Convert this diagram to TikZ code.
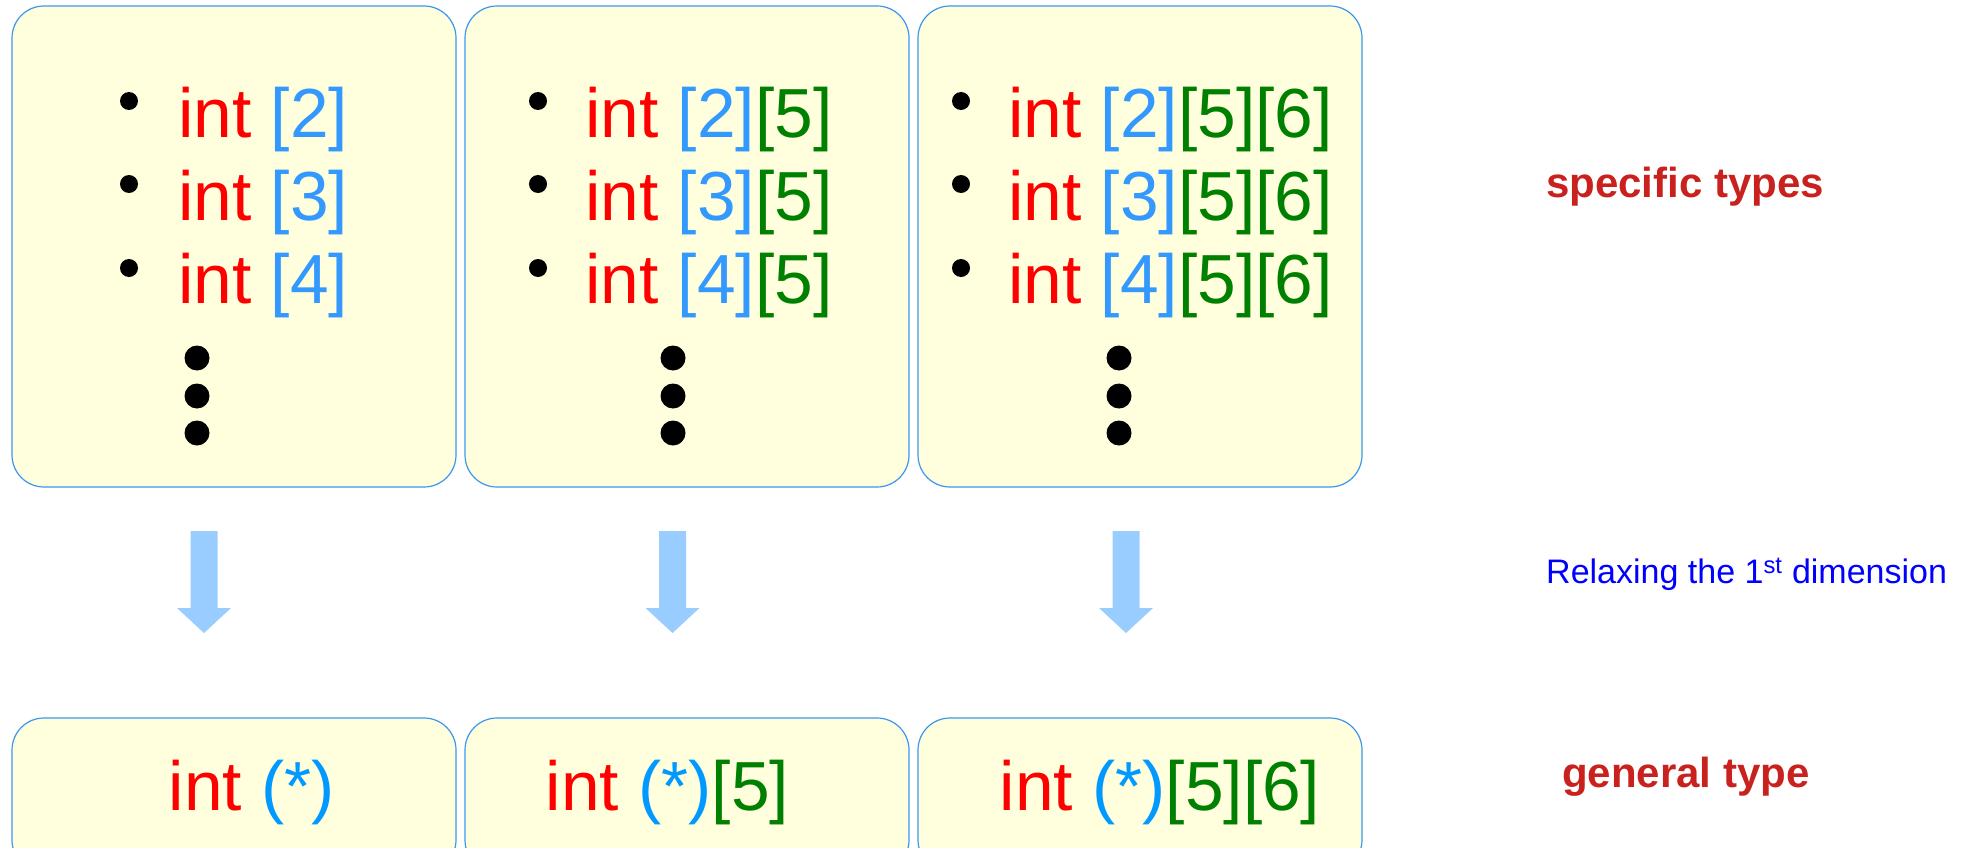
\documentclass[tikz,border=0pt]{standalone}
\usepackage{fontspec}
\setmainfont{Liberation Sans}
\definecolor{boxfill}{RGB}{255,255,221}
\definecolor{boxline}{RGB}{60,150,240}
\definecolor{intred}{RGB}{255,0,0}
\definecolor{dimblue}{RGB}{51,153,255}
\definecolor{starblue}{RGB}{0,153,255}
\definecolor{dimgreen}{RGB}{0,128,0}
\definecolor{arrowblue}{RGB}{153,204,255}
\definecolor{labelred}{RGB}{201,33,30}
\definecolor{labelblue}{RGB}{0,0,255}
\newcommand{\ci}{\textcolor{intred}{int}}
\newcommand{\cb}[1]{\textcolor{dimblue}{[#1]}}
\newcommand{\cg}[1]{\textcolor{dimgreen}{[#1]}}
\newcommand{\cs}{\textcolor{starblue}{(*)}}
\begin{document}
\begin{tikzpicture}[x=1pt,y=-1pt,
  panel/.style={draw=boxline, line width=1.2pt, fill=boxfill, rounded corners=32pt, inner sep=0pt, minimum width=444pt},
  toppanel/.style={panel, minimum height=481pt},
  botpanel/.style={panel, minimum height=154pt},
  code/.style={anchor=base west, inner sep=0pt, font=\fontsize{69.5}{80}\selectfont},
  bul/.style={circle, fill=black, inner sep=0pt, minimum size=18pt},
  vdot/.style={circle, fill=black, inner sep=0pt, minimum size=25pt},
  sidebold/.style={anchor=base west, inner sep=0pt, text=labelred, font=\fontsize{42}{50}\selectfont\bfseries},
  sidenote/.style={anchor=base west, inner sep=0pt, text=labelblue, font=\fontsize{34}{40}\selectfont},
  blockarrow/.style={fill=arrowblue}
]
\useasboundingbox (0,0) rectangle (1969,848);

% top panels
\node[toppanel] (t1) at (234,246.5) {};
\node[toppanel] (t2) at (687,246.5) {};
\node[toppanel] (t3) at (1140,246.5) {};

% bottom panels
\node[botpanel] (g1) at (234,795) {};
\node[botpanel] (g2) at (687,795) {};
\node[botpanel] (g3) at (1140,795) {};

% panel 1 content
\node[bul] (p1b1) at (129,101) {};
\node[bul] (p1b2) at (129,184) {};
\node[bul] (p1b3) at (129,268) {};
\node[code] (p1l1) at (178,137) {\ci{} \cb{2}};
\node[code] (p1l2) at (178,220) {\ci{} \cb{3}};
\node[code] (p1l3) at (178,303) {\ci{} \cb{4}};
\node[vdot] (p1d1) at (197,358) {};
\node[vdot] (p1d2) at (197,396) {};
\node[vdot] (p1d3) at (197,433) {};

% panel 2 content
\node[bul] (p2b1) at (538,101) {};
\node[bul] (p2b2) at (538,184) {};
\node[bul] (p2b3) at (538,268) {};
\node[code] (p2l1) at (585,137) {\ci{} \cb{2}\cg{5}};
\node[code] (p2l2) at (585,220) {\ci{} \cb{3}\cg{5}};
\node[code] (p2l3) at (585,303) {\ci{} \cb{4}\cg{5}};
\node[vdot] (p2d1) at (673,358) {};
\node[vdot] (p2d2) at (673,396) {};
\node[vdot] (p2d3) at (673,433) {};

% panel 3 content
\node[bul] (p3b1) at (961,101) {};
\node[bul] (p3b2) at (961,184) {};
\node[bul] (p3b3) at (961,268) {};
\node[code] (p3l1) at (1008,137) {\ci{} \cb{2}\cg{5}\cg{6}};
\node[code] (p3l2) at (1008,220) {\ci{} \cb{3}\cg{5}\cg{6}};
\node[code] (p3l3) at (1008,303) {\ci{} \cb{4}\cg{5}\cg{6}};
\node[vdot] (p3d1) at (1119,358) {};
\node[vdot] (p3d2) at (1119,396) {};
\node[vdot] (p3d3) at (1119,433) {};

% bottom texts
\node[code] (q1) at (168.5,810) {\ci{} \cs};
\node[code] (q2) at (545.5,810) {\ci{} \cs\cg{5}};
\node[code] (q3) at (999.5,810) {\ci{} \cs\cg{5}\cg{6}};

% block arrows
\foreach \ax/\nm in {204/a1, 672.5/a2, 1126/a3} {
  \begin{scope}[shift={(\ax,0)}]
    \coordinate (\nm) at (0,531);
    \fill[blockarrow] (-13.5,531) -- (13.5,531) -- (13.5,608) -- (27,608) -- (0,633) -- (-27,608) -- (-13.5,608) -- cycle;
  \end{scope}
}

% side labels
\node[sidebold] (spec) at (1546,197) {specific types};
\node[sidenote] (relax) at (1546,583) {Relaxing the 1\textsuperscript{st} dimension};
\node[sidebold] (gen) at (1562,787) {general type};
\end{tikzpicture}
\end{document}
